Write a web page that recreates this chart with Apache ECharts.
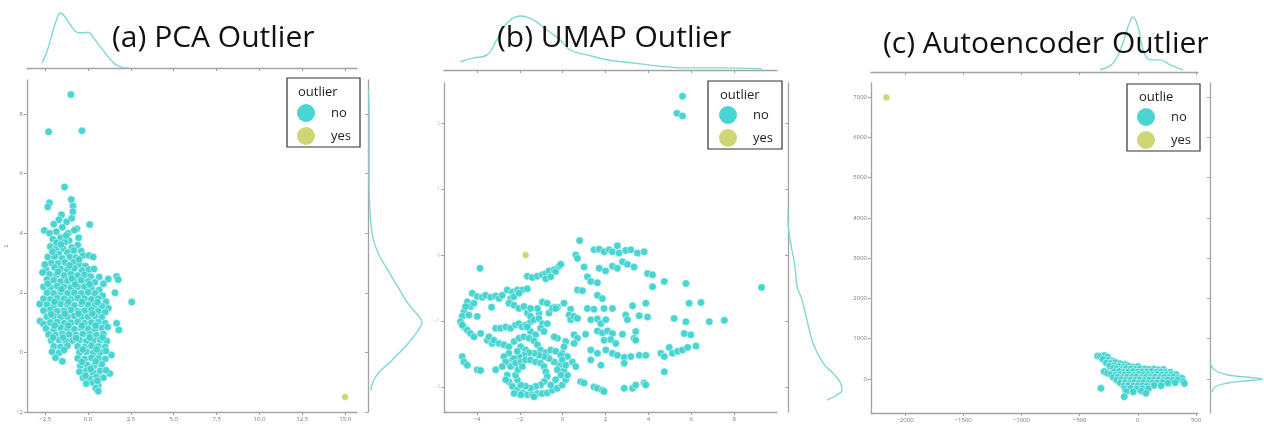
<!DOCTYPE html>
<html><head><meta charset="utf-8">
<script src="https://cdn.jsdelivr.net/npm/echarts@6/dist/echarts.min.js"></script>
<style>html,body{margin:0;padding:0;background:#fff}#c{width:1264px;height:428px}</style>
</head><body><div id="c"></div>
<script>
// ---------- DATA ----------
const titles = ['(a) PCA Outlier', '(b) UMAP Outlier', '(c) Autoencoder Outlier'];
const legendTitles = ['outlier', 'outlier', 'outlie'];
const hueNames = ['no', 'yes'];

const pcaXTicks = [-2.5, 0, 2.5, 5, 7.5, 10, 12.5, 15];
const pcaYTicks = [-2, 0, 2, 4, 6, 8];
const umapXTicks = [-4, -2, 0, 2, 4, 6, 8];
const umapYTicks = [-2, -1, 0, 1, 2];
const aeXTicks = [-2000, -1500, -1000, -500, 0, 500];
const aeYTicks = [0, 1000, 2000, 3000, 4000, 5000, 6000, 7000];

const pcaNo = [
[-1.0,8.65],[-2.3,7.4],[-0.35,7.44],[-1.37,5.55],[-2.25,5.02],[-2.35,4.88],[-0.98,5.13],[-0.88,4.91],[-0.88,4.72],[0.1,4.29],[-2.55,4.09],
[2.55,1.69],[1.57,2.0],[1.8,0.75],[1.67,0.98],[1.67,2.55],[1.18,2.46],[0.65,2.53],[1.76,2.44],[1.27,-0.71],[1.37,-0.09],[1.18,1.48],
[-1.55,4.62],[-1.7,4.45],[-0.95,4.5],[-1.25,4.38],
[-2.0,4.3],[-1.5,4.2],[-0.65,4.15],[-1.85,4.05],[-1.15,4.0],[-0.8,4.1],[-2.25,4.0],
[-2.05,3.8],[-1.6,3.85],[-1.1,3.75],[-0.55,3.85],[-1.35,3.7],[-0.6,3.6],
[-2.2,3.55],[-1.85,3.5],[-1.45,3.48],[-0.95,3.52],[-1.2,3.35],[-0.4,3.4],[-1.7,3.3],
[-2.35,3.2],[-1.95,3.22],[-1.5,3.15],[-1.05,3.2],[-0.7,3.18],[-0.3,3.25],[0.05,3.25],[0.3,3.2],[-0.85,3.02],
[-2.15,3.0],[-1.75,2.98],[-1.35,3.02],[-0.5,2.95],[-0.15,2.9],[-1.95,2.85],
[-2.45,2.78],[-1.6,2.8],[-1.2,2.78],[-0.8,2.82],[-0.35,2.75],[0.05,2.78],[0.35,2.8],
[-2.65,2.68],[-2.25,2.62],[-1.85,2.6],[-1.4,2.58],[-1.0,2.62],[-0.6,2.58],[-0.2,2.6],[0.15,2.55],[-2.4,2.45],
[-2.0,2.42],[-1.6,2.38],[-1.2,2.4],[-0.8,2.38],[-0.4,2.42],[0.0,2.38],[0.4,2.35],[0.9,2.3],
[-2.6,2.2],[-2.2,2.18],[-1.8,2.22],[-1.4,2.2],[-1.0,2.18],[-0.6,2.2],[-0.2,2.2],[0.2,2.15],[0.65,2.1],
[-2.4,2.0],[-2.0,1.98],[-1.6,2.02],[-1.2,1.98],[-0.8,2.0],[-0.4,1.98],[0.0,2.02],[0.4,1.98],[0.85,1.9],
[-2.6,1.8],[-2.2,1.78],[-1.8,1.82],[-1.4,1.8],[-1.0,1.78],[-0.6,1.82],[-0.2,1.8],[0.2,1.78],[0.6,1.8],[1.05,1.7],
[-2.4,1.6],[-2.0,1.58],[-1.6,1.62],[-1.2,1.6],[-0.8,1.58],[-0.4,1.62],[0.0,1.6],[0.4,1.58],[0.8,1.55],
[-2.6,1.4],[-2.2,1.42],[-1.8,1.38],[-1.4,1.4],[-1.0,1.42],[-0.6,1.38],[-0.2,1.4],[0.2,1.42],[0.6,1.38],[1.0,1.35],
[-2.4,1.2],[-2.0,1.22],[-1.6,1.18],[-1.2,1.2],[-0.8,1.22],[-0.4,1.18],[0.0,1.2],[0.4,1.22],[0.8,1.18],
[-2.8,1.05],[-2.6,0.95],[-2.2,1.0],[-1.8,1.02],[-1.4,0.98],[-1.0,1.0],[-0.6,1.02],[-0.2,0.98],[0.2,1.0],[0.6,1.02],[1.0,0.98],
[-2.45,0.8],[-2.0,0.78],[-1.6,0.82],[-1.2,0.8],[-0.8,0.78],[-0.4,0.82],[0.0,0.8],[0.4,0.78],[0.8,0.82],[1.15,0.85],
[-2.3,0.6],[-1.9,0.58],[-1.5,0.62],[-1.1,0.6],[-0.7,0.58],[-0.3,0.62],[0.1,0.6],[0.5,0.58],[0.9,0.62],
[-2.15,0.4],[-1.7,0.42],[-1.3,0.38],[-0.9,0.4],[-0.5,0.42],[-0.1,0.38],[0.3,0.4],[0.7,0.42],[1.1,0.38],
[-2.0,0.2],[-1.6,0.18],[-1.2,0.22],[-0.6,0.2],[-0.2,0.18],[0.2,0.22],[0.6,0.2],[1.0,0.18],
[-2.1,0.02],[-1.7,-0.02],[-0.5,0.0],[-0.1,0.02],[0.3,-0.02],[0.7,0.0],[1.05,0.05],
[-1.9,-0.18],[-1.5,-0.3],[-0.6,-0.2],[-0.2,-0.22],[0.2,-0.18],[0.6,-0.2],[1.0,-0.22],
[-0.45,-0.45],[-0.05,-0.42],[0.35,-0.45],[0.8,-0.4],
[-0.5,-0.65],[-0.1,-0.62],[0.3,-0.68],[0.7,-0.62],[1.05,-0.6],
[-0.3,-0.85],[0.1,-0.88],[0.5,-0.82],[0.9,-0.85],
[-0.1,-1.05],[0.3,-1.02],[0.6,-1.1],[0.45,-1.2],[0.6,-1.3],
[-1.83,3.68],[-1.28,3.92],[-2.08,3.38],[-1.58,3.62],[-0.82,3.42],[-2.52,2.95],[-1.08,2.92],[-0.52,3.12],[-1.75,2.7],[-0.95,2.48],
[-2.35,2.3],[-1.55,2.12],[-0.75,2.28],[0.1,2.28],[-2.82,1.62],[-1.95,1.7],[-1.15,1.7],[-0.35,1.7],[0.55,1.68],[-2.15,1.28],
[-1.35,1.3],[-0.55,1.3],[0.25,1.3],[-1.95,0.9],[-1.15,0.9],[-0.35,0.9],[0.45,0.9],[-2.05,0.5],[-1.45,0.5],[-0.7,0.48],
[0.1,0.5],[0.85,0.5],[-1.4,0.08],[-0.3,0.1],[0.5,0.1],[-0.35,-0.32],[0.45,-0.3],[0.15,-0.55],[0.55,-0.95],[-0.15,-0.78]
];
const pcaYes = [[15.0,-1.5]];

const umapNo = [
[5.59,2.41],[5.33,2.15],[5.59,2.11],[-3.86,-0.20],[9.28,-0.49],[0.79,0.22],
[0.61,0.0],[0.69,-0.05],[1.46,0.08],[1.70,0.09],[1.93,0.05],[2.17,0.08],[2.32,0.05],[2.55,0.14],[2.63,0.03],[2.94,0.07],[3.18,0.08],[3.49,0.03],[3.80,0.05],
[1.0,-0.18],[1.70,-0.2],[2.0,-0.24],[2.32,-0.17],[2.55,-0.2],[2.79,-0.10],[3.02,-0.14],[3.33,-0.18],
[3.96,-0.28],[4.19,-0.30],[1.15,-0.33],[1.31,-0.40],[1.62,-0.42],[0.69,-0.53],[0.92,-0.54],
[4.19,-0.48],[4.74,-0.40],[5.75,-0.43],[1.62,-0.61],[1.85,-0.66],[5.9,-0.73],[6.45,-0.72],
[1.15,-0.81],[1.46,-0.82],[1.93,-0.81],[2.32,-0.81],[3.26,-0.77],[3.88,-0.73],
[1.31,-0.98],[1.62,-0.97],[1.78,-1.04],[2.01,-0.98],[2.94,-0.91],[3.02,-0.98],[3.57,-0.92],[3.96,-0.94],
[5.2,-0.96],[5.75,-1.01],[6.84,-1.01],[7.54,-0.99],
[1.62,-1.15],[1.85,-1.18],[2.09,-1.15],[2.32,-1.19],[1.07,-1.2],[3.41,-1.16],[2.79,-1.2],[5.67,-1.19],[5.98,-1.21],
[1.93,-1.29],[2.24,-1.28],[2.48,-1.34],[3.33,-1.26],[3.41,-1.29],
[1.31,-1.44],[1.62,-1.49],[2.01,-1.44],[2.32,-1.49],[2.55,-1.52],[2.87,-1.55],[3.18,-1.54],[3.57,-1.52],[3.88,-1.52],
[4.58,-1.49],[4.74,-1.54],[4.97,-1.40],[5.12,-1.49],[5.36,-1.46],[5.59,-1.44],[5.83,-1.40],[6.22,-1.38],
[1.31,-1.59],[1.78,-1.67],[2.87,-1.64],[4.74,-1.77],
[0.84,-1.92],[1.0,-1.94],[1.46,-2.0],[1.62,-2.02],[1.85,-2.05],[1.93,-2.07],
[2.87,-2.02],[3.26,-2.02],[3.41,-1.97],[3.8,-1.94],[3.88,-1.97],
[0.53,-1.21],[0.69,-1.26],[0.53,-1.34],
[0.37,-0.82],[0.30,-0.91],[0.37,-0.98],[0.53,-0.93],[0.69,-0.96],
[0.06,-0.73],[-0.25,-0.79],[-0.40,-0.79],
[0.14,-1.31],[0.06,-1.39],[-0.02,-1.49],[-0.25,-1.26],[-0.40,-1.24],
[0.22,-1.54],[0.45,-1.62],[0.61,-1.69],
[-1.65,-0.32],[-1.42,-0.34],[-1.18,-0.32],[-0.95,-0.30],[-0.79,-0.28],[-0.64,-0.24],[-0.40,-0.22],[-0.33,-0.25],[-0.17,-0.17],[-0.09,-0.14],[-0.79,-0.36],[-0.56,-0.33],
[-4.22,-0.58],[-3.99,-0.63],[-3.75,-0.64],[-3.6,-0.61],[-3.36,-0.64],[-3.13,-0.62],[-2.97,-0.66],[-2.82,-0.61],[-2.59,-0.53],[-2.35,-0.56],[-2.12,-0.53],[-1.89,-0.53],[-1.65,-0.51],[-2.43,-0.66],[-2.27,-0.63],[-2.04,-0.58],
[-4.45,-0.71],[-4.3,-0.78],[-4.61,-0.86],[-4.69,-0.93],[-4.77,-1.01],[-4.61,-1.09],[-4.45,-1.14],[-4.3,-1.19],[-4.69,-1.06],[-4.38,-0.91],[-4.14,-0.73],[-4.53,-0.78],[-4.14,-1.24],[-3.83,-1.19],[-3.52,-1.29],[-3.29,-1.34],[-3.32,-0.79],[-3.99,-0.93],
[-3.13,-1.11],[-2.90,-1.11],[-2.66,-1.09],[-2.43,-1.11],[-2.20,-1.06],[-2.04,-1.04],[-1.89,-1.09],[-1.73,-1.06],[-1.50,-1.01],
[-2.51,-0.73],[-2.27,-0.76],[-2.04,-0.81],[-1.81,-0.78],[-1.65,-0.88],[-1.50,-0.93],[-1.34,-0.98],[-1.11,-0.88],[-1.11,-0.96],[-0.95,-1.04],[-1.03,-1.11],[-0.87,-1.16],[-0.72,-1.04],[-0.64,-0.88],[-0.48,-0.81],[-0.33,-0.81],[-0.95,-0.71],[-0.72,-0.73],[-1.18,-0.81],[-1.50,-0.81],
[-1.50,-1.16],[-1.26,-1.21],[-1.65,-1.09],
[-3.44,-1.24],[-3.21,-1.29],[-2.97,-1.34],[-2.74,-1.36],[-2.51,-1.39],[-2.27,-1.31],[-2.04,-1.26],[-1.81,-1.24],[-1.57,-1.26],[-1.34,-1.30],[-1.18,-1.36],[-1.03,-1.44],[-0.79,-1.48],[-0.56,-1.44],[-0.33,-1.46],[-0.09,-1.52],[-1.96,-1.39],[-1.73,-1.44],
[-4.69,-1.54],[-4.61,-1.62],[-4.45,-1.67],[-3.99,-1.74],[-3.83,-1.75],[-3.13,-1.74],
[-2.51,-1.49],[-2.35,-1.59],[-2.43,-1.69],[-2.59,-1.82],[-2.51,-1.92],[-2.35,-1.99],[-2.12,-2.05],[-1.88,-2.09],[-1.65,-2.12],[-1.42,-2.12],[-1.18,-2.10],[-0.95,-2.10],[-0.72,-2.09],[-0.48,-2.05],[-0.25,-2.02],[-0.02,-1.97],[0.14,-1.89],[0.22,-1.82],[0.06,-1.74],[-0.17,-1.67],[-0.40,-1.62],[-0.64,-1.57],[-0.87,-1.54],[-1.11,-1.52],[-1.34,-1.49],[-1.57,-1.48],[-1.81,-1.52],[-2.04,-1.54],[-2.27,-1.57],
[-2.20,-1.64],[-1.96,-1.62],[-1.73,-1.59],[-1.50,-1.59],[-1.26,-1.62],[-1.03,-1.64],[-0.87,-1.69],[-0.79,-1.77],[-0.72,-1.84],[-0.87,-1.92],[-1.03,-1.97],[-1.26,-1.99],[-1.50,-2.02],[-1.73,-1.99],[-1.96,-1.97],[-2.12,-1.89],[-2.20,-1.82],[-2.09,-1.74],[-1.88,-1.69],
[-2.12,-1.46],[-2.74,-1.54],[-2.66,-1.62],[-2.82,-1.69],[-2.66,-1.89],[-2.27,-2.10],[-1.96,-2.12],[-1.34,-2.15],
[-0.02,-1.59],[0.14,-1.67],[-0.25,-1.74],[-0.09,-1.82],[-0.33,-1.89],[-0.56,-1.97]
];
const umapYes = [[-1.73,0.0]];

const aeNo = [
[-345,570],[-320,560],[-285,585],[-260,545],
[-300,490],[-250,470],[-215,440],
[-270,400],[-230,390],[-190,410],[-150,380],[-110,360],
[-240,320],[-200,330],[-160,310],[-120,300],[-80,320],[-40,300],[0,310],[-210,270],
[-180,250],[-140,240],[-100,260],[-60,250],[-20,240],[20,255],[60,250],[100,240],[140,250],[180,230],[220,235],
[-290,185],[-260,140],[-200,180],[-160,190],[-120,170],[-80,180],[-40,185],[0,170],[40,180],[80,175],[120,185],[160,170],[200,180],[240,165],[280,170],
[-230,110],[-190,100],[-150,115],[-110,105],[-70,110],[-30,100],[10,115],[50,105],[90,110],[130,100],[170,115],[210,105],[250,110],[290,100],[330,110],
[-210,40],[-170,50],[-130,35],[-90,45],[-50,40],[-10,50],[30,35],[70,45],[110,40],[150,50],[190,35],[230,45],[270,40],[310,50],[350,35],[380,20],
[-180,-30],[-140,-20],[-100,-35],[-60,-25],[-20,-30],[20,-20],[60,-35],[100,-25],[140,-30],[180,-20],[220,-35],[260,-25],[300,-30],[340,-20],[390,-60],
[-150,-100],[-110,-90],[-70,-105],[-30,-95],[10,-100],[50,-90],[90,-110],[130,-95],[170,-100],[210,-90],[260,-105],[320,-95],[400,-110],
[-120,-170],[-80,-160],[-40,-175],[0,-165],[40,-170],[80,-180],[140,-160],[200,-170],
[-317,-232],[-110,-240],[-60,-235],[-10,-250],[40,-240],[90,-245],
[-100,-310],[-40,-320],[30,-300],[70,-356],[-117,-438]
];
const aeYes = [[-2160,6990]];

// marginal density curves: [x, density] for top, [density, y] for right
const pcaTopKde = [[-2.68,0.09],[-2.33,0.36],[-2.03,0.69],[-1.80,0.91],[-1.62,1.0],[-1.39,0.95],[-1.03,0.78],[-0.56,0.64],[-0.27,0.64],[0.02,0.65],[0.32,0.55],[0.73,0.38],[1.32,0.15],[1.73,0.04],[2.37,0.0]];
const pcaRightKde = [[0.01,8.8],[0.02,8.02],[0.02,5.77],[0.04,4.66],[0.09,3.86],[0.19,3.32],[0.37,2.75],[0.56,2.18],[0.74,1.64],[0.96,1.17],[1.0,1.0],[0.93,0.74],[0.74,0.30],[0.44,-0.27],[0.19,-0.70],[0.09,-1.0],[0.05,-1.28]];
const umapTopKde = [[-4.79,0.15],[-4.19,0.22],[-3.53,0.28],[-3.07,0.56],[-2.60,0.87],[-1.99,1.0],[-1.39,0.93],[-0.73,0.74],[-0.13,0.56],[0.34,0.37],[1.13,0.28],[2.07,0.19],[3.28,0.13],[4.54,0.07],[5.78,0.04],[7.34,0.04],[9.30,0.02]];
const umapRightKde = [[0.0,0.7],[0.0,0.53],[0.04,0.23],[0.13,-0.18],[0.17,-0.48],[0.26,-0.68],[0.35,-0.98],[0.46,-1.33],[0.65,-1.64],[0.83,-1.79],[0.96,-1.92],[1.0,-2.05],[0.91,-2.12],[0.72,-2.20]];
const aeTopKde = [[-325,0.04],[-213,0.16],[-127,0.53],[-84,0.82],[-41,1.0],[2,0.82],[45,0.4],[105,0.22],[191,0.22],[277,0.13],[388,0.04]];
const aeRightKde = [[0.0,397],[0.09,223],[0.34,99],[0.66,50],[1.0,0],[0.66,-50],[0.34,-99],[0.09,-199],[0.04,-323]];

// ---------- CHART ----------
const chart = echarts.init(document.getElementById('c'), null, {renderer: 'canvas'});
const AX = '#a3a3a3';
const FONT = '"Open Sans", sans-serif';
const C_NO = '#3fd3cf', C_YES = '#ccd46f', C_KDE = '#80d8d4';
const minus = s => String(s).replace('-', '\u2212');

const panels = [
  {main:{left:27, top:80, width:330, height:332}, top:{left:27, top:8, width:330, height:60}, right:{left:368, top:80, width:54, height:332},
   x:[-3.56, 15.69], y:[-2, 9.14], topMax:1.09, xt:pcaXTicks, yt:pcaYTicks, xf:v => minus(v.toFixed(1)), yf:v => minus(v),
   no:pcaNo, yes:pcaYes, tk:pcaTopKde, rk:pcaRightKde, yName:'1', size:7.5},
  {main:{left:444, top:83, width:333, height:329}, top:{left:444, top:10, width:333, height:60}, right:{left:788, top:83, width:54, height:329},
   x:[-5.54, 10.0], y:[-2.38, 2.61], topMax:1.11, xt:umapXTicks, yt:umapYTicks, xf:v => minus(v), yf:v => minus(v),
   no:umapNo, yes:umapYes, tk:umapTopKde, rk:umapRightKde, yName:'', size:7.5},
  {main:{left:871, top:83, width:327, height:330}, top:{left:871, top:12, width:327, height:60}, right:{left:1210, top:83, width:53, height:330},
   x:[-2292, 517], y:[-844, 7347], topMax:1.09, xt:aeXTicks, yt:aeYTicks, xf:v => minus(v), yf:v => minus(v),
   no:aeNo, yes:aeYes, tk:aeTopKde, rk:aeRightKde, yName:'', size:7.5}
];

const grid = [], xAxis = [], yAxis = [], series = [], legend = [], graphic = [], title = [];
const lineAx = {show:true, onZero:false, lineStyle:{color:AX, width:1.3}};
const tickSty = {color:AX, width:1};

panels.forEach((p, i) => {
  const g0 = grid.length;
  grid.push(Object.assign({outerBoundsMode:'none'}, p.main));
  grid.push(Object.assign({outerBoundsMode:'none'}, p.top));
  grid.push(Object.assign({outerBoundsMode:'none'}, p.right));
  xAxis.push({type:'value', gridIndex:g0, min:p.x[0], max:p.x[1], axisLine:lineAx,
    axisTick:{show:true, length:3, lineStyle:tickSty, customValues:p.xt},
    axisLabel:{show:true, customValues:p.xt, formatter:p.xf, fontSize:6, color:'#777', margin:4, fontFamily:FONT},
    splitLine:{show:false}, name:'0', nameLocation:'middle', nameGap:13, nameTextStyle:{fontSize:6, color:'#777'}});
  yAxis.push({type:'value', gridIndex:g0, min:p.y[0], max:p.y[1], axisLine:lineAx,
    axisTick:{show:true, length:3, lineStyle:tickSty, customValues:p.yt},
    axisLabel:{show:true, customValues:p.yt, formatter:p.yf, fontSize:i===1?5:6, color:i===1?'#bbb':'#777', margin:4, fontFamily:FONT},
    splitLine:{show:false}, name:p.yName, nameLocation:'middle', nameGap:18, nameRotate:90, nameTextStyle:{fontSize:6, color:'#777'}});
  xAxis.push({type:'value', gridIndex:g0+1, min:p.x[0], max:p.x[1], axisLine:lineAx,
    axisTick:{show:true, length:3, lineStyle:tickSty, customValues:p.xt}, axisLabel:{show:false, customValues:p.xt}, splitLine:{show:false}});
  yAxis.push({type:'value', gridIndex:g0+1, min:0, max:p.topMax, show:false});
  xAxis.push({type:'value', gridIndex:g0+2, min:0, max:1, show:false});
  yAxis.push({type:'value', gridIndex:g0+2, min:p.y[0], max:p.y[1], axisLine:lineAx,
    axisTick:{show:true, length:3, lineStyle:tickSty, customValues:p.yt}, axisLabel:{show:false, customValues:p.yt}, splitLine:{show:false}});

  series.push({type:'scatter', name:hueNames[0], xAxisIndex:g0, yAxisIndex:g0, data:p.no, symbolSize:p.size,
    itemStyle:{color:C_NO, borderColor:'#ffffff', borderWidth:0.5, opacity:0.95}, emphasis:{disabled:true}, silent:true});
  series.push({type:'scatter', name:hueNames[1], xAxisIndex:g0, yAxisIndex:g0, data:p.yes, symbolSize:7,
    itemStyle:{color:C_YES, borderColor:'#ffffff', borderWidth:0.5, opacity:0.95}, emphasis:{disabled:true}, silent:true});
  series.push({type:'line', name:'kdeTop'+i, xAxisIndex:g0+1, yAxisIndex:g0+1, data:p.tk, smooth:0.4, showSymbol:false, symbol:'none',
    lineStyle:{color:C_KDE, width:1.4}, silent:true});
  series.push({type:'line', name:'kdeRight'+i, xAxisIndex:g0+2, yAxisIndex:g0+2, data:p.rk, smooth:0.4, showSymbol:false, symbol:'none',
    lineStyle:{color:C_KDE, width:1.4}, silent:true});
});

const legPos = [{left:287, top:78, pad:[26,9,2,10]}, {left:708, top:81, pad:[25,9,2,11]}, {left:1127, top:84, pad:[24,9,2,10]}];
legPos.forEach(l => {
  legend.push({data:hueNames.map(n => ({name:n, icon:'circle'})), orient:'vertical', left:l.left, top:l.top,
    itemWidth:18, itemHeight:18, itemGap:5, padding:l.pad, borderColor:'#333', borderWidth:1.2, borderRadius:0,
    selectedMode:false, itemStyle:{borderWidth:0},
    textStyle:{fontSize:13, fontFamily:FONT, color:'#222', padding:[0,0,0,11]}});
});
const legTitlePos = [[298,86],[720,89],[1139,91]];
legendTitles.forEach((t, i) => {
  graphic.push({type:'text', left:legTitlePos[i][0], top:legTitlePos[i][1], style:{text:t, font:'13px "Open Sans"', fill:'#222'}});
});
const titlePos = [[112,23],[497,23],[883,29]];
titles.forEach((t, i) => {
  title.push({text:t, left:titlePos[i][0], top:titlePos[i][1], padding:0, textStyle:{fontFamily:FONT, fontSize:30, fontWeight:'normal', color:'#111'}});
});

chart.setOption({animation:false, backgroundColor:'#fff', title, grid, xAxis, yAxis, series, legend, graphic});
</script></body></html>
